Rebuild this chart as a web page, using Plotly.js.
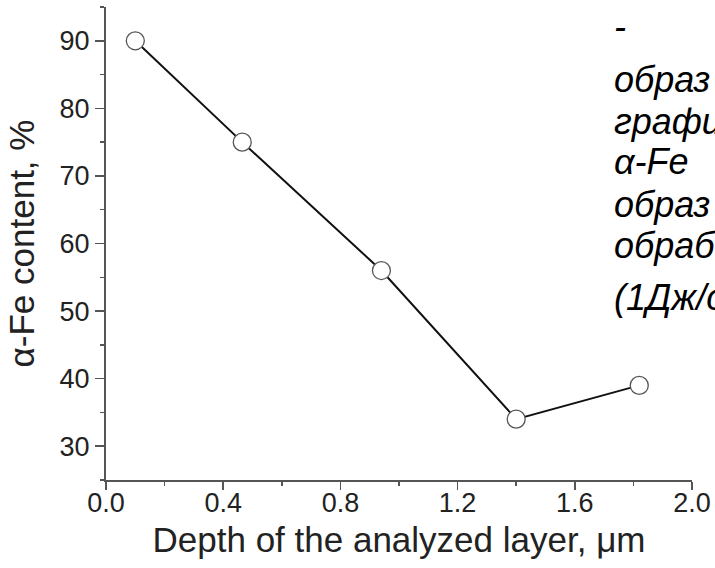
<!DOCTYPE html>
<html>
<head>
<meta charset="utf-8">
<script src="https://cdn.plot.ly/plotly-3.0.1.min.js"></script>
<style>
  html, body { margin: 0; padding: 0; background: #fff; }
  #chart { width: 715px; height: 568px; }
</style>
</head>
<body>
<div id="chart"></div>
<script>
// Data
const depth = [0.10, 0.465, 0.94, 1.40, 1.82];        // µm
const alphaFe = [90, 75, 56, 34, 39];                  // %
// Right-hand italic caption, clipped by the picture edge in the reference
const sideText = ["-", "образ", "графи", "α-Fe", "образ", "обраб", "(1Дж/с"];
const sideTextY = [26, 80, 122, 161, 204, 246, 297];   // pixel centres of each line

const W = 715, H = 568;
const M = { l: 106, r: 23, t: 7, b: 88 };
const plotH = H - M.t - M.b, plotW = W - M.l - M.r;

const font = "Liberation Sans, Arial, sans-serif";
const axisColor = "#555";

const trace = {
  x: depth,
  y: alphaFe,
  type: "scatter",
  mode: "lines+markers",
  line: { color: "#111", width: 2 },
  marker: { symbol: "circle", size: 18, color: "#fff", line: { color: "#555", width: 1.3 } },
  hoverinfo: "x+y"
};

const annotations = sideText.map((t, i) => ({
  text: t,
  xref: "paper", yref: "paper",
  x: (612 - M.l) / plotW,
  y: (H - M.b - sideTextY[i]) / plotH,
  xanchor: "left", yanchor: "middle",
  showarrow: false,
  font: { family: font, size: 36, color: "#000", style: "italic" }
}));

const layout = {
  width: W, height: H,
  margin: M,
  paper_bgcolor: "#fff", plot_bgcolor: "#fff",
  showlegend: false,
  font: { family: font, color: "#222" },
  xaxis: {
    range: [0, 2.0],
    tickmode: "linear", tick0: 0, dtick: 0.4,
    tickformat: ".1f",
    ticks: "outside", ticklen: 8, tickwidth: 1.5, tickcolor: axisColor,
    minor: { dtick: 0.2, ticks: "outside", ticklen: 4, tickwidth: 1.5, tickcolor: axisColor },
    showline: true, linecolor: axisColor, linewidth: 2,
    showgrid: false, zeroline: false,
    ticklabelstandoff: -10,
    tickfont: { family: font, size: 27, color: "#222" },
    title: { text: "Depth of the analyzed layer, μm", font: { family: font, size: 35, color: "#222" }, standoff: 10 },
    automargin: false
  },
  yaxis: {
    range: [25, 95],
    tickmode: "linear", tick0: 30, dtick: 10,
    ticks: "outside", ticklen: 9, tickwidth: 1.5, tickcolor: axisColor,
    minor: { dtick: 5, ticks: "outside", ticklen: 4, tickwidth: 1.5, tickcolor: axisColor },
    showline: true, linecolor: axisColor, linewidth: 2,
    showgrid: false, zeroline: false,
    ticklabelstandoff: 0,
    tickfont: { family: font, size: 27, color: "#222" },
    title: { text: "α-Fe content, %", font: { family: font, size: 35, color: "#222" }, standoff: 14 },
    automargin: false
  },
  annotations: annotations
};

Plotly.newPlot("chart", [trace], layout, { displayModeBar: false, staticPlot: true });
</script>
</body>
</html>
